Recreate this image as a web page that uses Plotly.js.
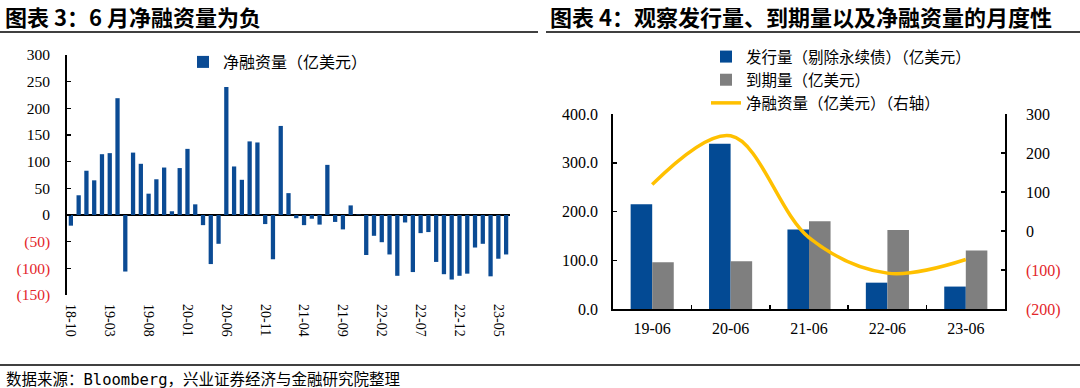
<!DOCTYPE html>
<html>
<head>
<meta charset="utf-8">
<script src="https://cdn.plot.ly/plotly-3.0.1.min.js"></script>
<style>
html,body{margin:0;padding:0;background:#fff;}
#chart{width:1080px;height:388px;}
</style>
</head>
<body>
<div id="chart"></div>
<script>
// ---------- Data: left chart (monthly net financing, 100m USD) ----------
const months = ["18-10","18-11","18-12","19-01","19-02","19-03","19-04","19-05","19-06","19-07","19-08","19-09",
  "19-10","19-11","19-12","20-01","20-02","20-03","20-04","20-05","20-06","20-07","20-08","20-09",
  "20-10","20-11","20-12","21-01","21-02","21-03","21-04","21-05","21-06","21-07","21-08","21-09",
  "21-10","21-11","21-12","22-01","22-02","22-03","22-04","22-05","22-06","22-07","22-08","22-09",
  "22-10","22-11","22-12","23-01","23-02","23-03","23-04","23-05","23-06"];
const netMonthly = [-20,37,83,65,114,116,219,-106,117,96,40,67,
  89,7,88,124,20,-19,-92,-54,240,91,66,138,
  136,-17,-83,167,41,-6,-19,-7,-18,94,-13,-27,
  18,1,-75,-39,-51,-74,-114,-14,-107,-34,-32,-88,
  -111,-121,-114,-110,-61,-54,-115,-82,-74];
const leftTickLabels = ["18-10","19-03","19-08","20-01","20-06","20-11","21-04","21-09","22-02","22-07","22-12","23-05"];
const leftYTicks = [300,250,200,150,100,50,0,-50,-100,-150];

// ---------- Data: right chart (June of each year) ----------
const years = ["19-06","20-06","21-06","22-06","23-06"];
const issuance = [215,339,163,54,46];
const maturity = [96,98,180,162,120];
const netJune = [119,244,-17,-108,-73];
const rightYTicks = [300,200,100,0,-100,-200];

const seriesNames = ["净融资量（亿美元）","发行量（剔除永续债）（亿美元）","到期量（亿美元）","净融资量（亿美元）（右轴）"];

// ---------- helpers ----------
const RED = "#E3262A";
const fmtNeg = v => v < 0 ? `<span style="color:${RED}">(${Math.abs(v)})</span>` : String(v);
const W = 1080, H = 388;
const px = x => x / W;
const py = y => 1 - y / H;

const serif = "Liberation Serif, Times New Roman, serif";
const cjk = "Noto Sans CJK SC, sans-serif";

const idx = months.map((m, i) => i);
const labelIdx = leftTickLabels.map(l => months.indexOf(l));
const boundaryIdx = labelIdx.map(i => i - 0.5);

const leftY = [-150, 300];
const leftDom = [py(295), py(55)];
const zeroPos = leftDom[0] + (0 - leftY[0]) / (leftY[1] - leftY[0]) * (leftDom[1] - leftDom[0]);

const traces = [
  {type:"bar", x: idx, y: netMonthly, xaxis:"x", yaxis:"y", name: seriesNames[0],
   marker:{color:"#0B4B94"}, legend:"legend2", hoverinfo:"skip"},
  {type:"bar", x: years, y: issuance, xaxis:"x2", yaxis:"y2", name: seriesNames[1],
   marker:{color:"#034A94"}, legend:"legend"},
  {type:"bar", x: years, y: maturity, xaxis:"x2", yaxis:"y2", name: seriesNames[2],
   marker:{color:"#7F7F7F"}, legend:"legend"},
  {type:"scatter", mode:"lines", x: years, y: netJune, xaxis:"x2", yaxis:"y3", name: seriesNames[3],
   line:{color:"#FFC000", width:3.5, shape:"spline", smoothing:1}, legend:"legend"}
];

const layout = {
  width: W, height: H,
  margin:{l:0,r:0,t:0,b:0},
  paper_bgcolor:"#fff", plot_bgcolor:"rgba(0,0,0,0)",
  barmode:"group", bargap:0.45, bargroupgap:0,
  showlegend:true,
  font:{family: serif, color:"#000"},
  // left chart
  xaxis:{domain:[px(67), px(510)], anchor:"y", range:[-0.5, months.length - 0.5],
    tickvals: labelIdx, ticktext: leftTickLabels, tickangle:90, ticks:"",
    ticklabelstandoff:8, showline:false, showgrid:false, zeroline:false,
    tickfont:{family:serif, size:14, color:"#000"}},
  xaxis3:{overlaying:"x", anchor:"free", position: zeroPos, range:[-0.5, months.length - 0.5],
    tickvals: boundaryIdx, ticks:"inside", ticklen:4, tickwidth:1.5, tickcolor:"#000",
    showticklabels:false, showline:false, showgrid:false, zeroline:false},
  yaxis:{domain: leftDom, anchor:"x", range: leftY,
    tickvals: leftYTicks, ticktext: leftYTicks.map(fmtNeg),
    ticks:"inside", ticklen:4, tickwidth:1.5, tickcolor:"#000",
    showline:true, linecolor:"#000", linewidth:1.8, showgrid:false,
    zeroline:true, zerolinecolor:"#000", zerolinewidth:2,
    ticklabelstandoff:12, tickfont:{family:serif, size:15.5, color:"#000"}},
  // right chart
  xaxis2:{domain:[px(613), px(1005)], anchor:"y2", type:"category",
    ticks:"inside", tickson:"boundaries", ticklen:4, tickwidth:1.5, tickcolor:"#000",
    showline:true, linecolor:"#000", linewidth:1.8, showgrid:false, zeroline:false,
    ticklabelstandoff:4, tickfont:{family:serif, size:16, color:"#000"}},
  yaxis2:{domain:[py(309), py(114)], anchor:"x2", range:[0,400], dtick:100, tickformat:".1f",
    ticks:"inside", ticklen:4, tickwidth:1.5, tickcolor:"#000",
    showline:true, linecolor:"#000", linewidth:1.8, showgrid:false, zeroline:false,
    ticklabelstandoff:10, tickfont:{family:serif, size:16, color:"#000"}},
  yaxis3:{overlaying:"y2", side:"right", anchor:"x2", range:[-200,300],
    tickvals: rightYTicks, ticktext: rightYTicks.map(fmtNeg),
    ticks:"inside", ticklen:4, tickwidth:1.5, tickcolor:"#000",
    showline:true, linecolor:"#000", linewidth:1.8, showgrid:false, zeroline:false,
    ticklabelstandoff:16, tickfont:{family:serif, size:16, color:"#000"}},
  legend:{x:px(706), y:py(40), xanchor:"left", yanchor:"top", bgcolor:"rgba(0,0,0,0)",
    font:{family:cjk, size:15.5, color:"#000"}, tracegroupgap:0, itemwidth:30, traceorder:"normal"},
  legend2:{x:px(183), y:py(45), xanchor:"left", yanchor:"top", bgcolor:"rgba(0,0,0,0)",
    font:{family:cjk, size:16, color:"#000"}, itemwidth:30},
  annotations:[
    {xref:"paper", yref:"paper", x:px(3), y:py(16), xanchor:"left", yanchor:"middle", showarrow:false,
     text:"<b>图表 3：6 月净融资量为负</b>", font:{family:cjk, size:22, color:"#000"}},
    {xref:"paper", yref:"paper", x:px(548), y:py(16), xanchor:"left", yanchor:"middle", showarrow:false,
     text:"<b>图表 4：观察发行量、到期量以及净融资量的月度性</b>", font:{family:cjk, size:22, color:"#000"}},
    {xref:"paper", yref:"paper", x:px(4), y:py(378), xanchor:"left", yanchor:"middle", showarrow:false,
     text:"数据来源：<span style=\"font-family:'DejaVu Sans Mono'\">Bloomberg</span>，兴业证券经济与金融研究院整理",
     font:{family:cjk, size:15.5, color:"#000"}}
  ],
  shapes:[
    {type:"line", xref:"paper", yref:"paper", x0:0, x1:px(538), y0:py(32), y1:py(32), line:{color:"#000", width:1.5}},
    {type:"line", xref:"paper", yref:"paper", x0:px(546), x1:1, y0:py(32), y1:py(32), line:{color:"#000", width:1.5}},
    {type:"line", xref:"paper", yref:"paper", x0:0, x1:1, y0:py(365), y1:py(365), line:{color:"#000", width:1.5}}
  ]
};

Plotly.newPlot("chart", traces, layout, {staticPlot:true, displayModeBar:false});
</script>
</body>
</html>
